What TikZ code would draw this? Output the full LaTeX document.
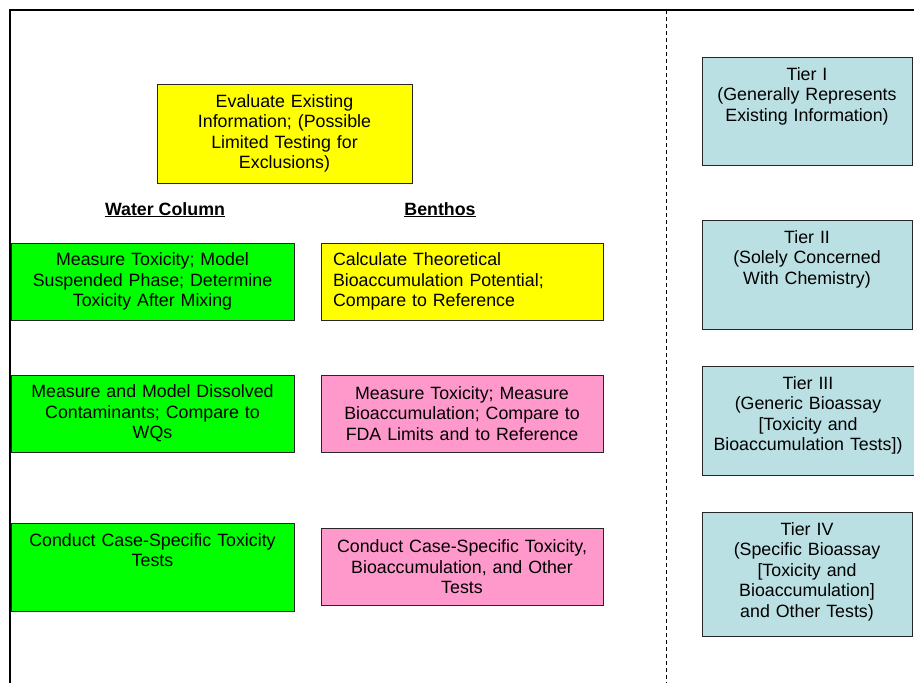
\documentclass[tikz,border=0pt]{standalone}
\usepackage{fontspec}
\setmainfont{Liberation Sans}
\usepackage{xcolor}
\usepackage{tikz}
\usetikzlibrary{positioning}

\definecolor{evalyellow}{RGB}{255,255,0}
\definecolor{wcgreen}{RGB}{0,255,0}
\definecolor{bepink}{RGB}{255,153,204}
\definecolor{tierblue}{RGB}{186,224,227}

\begin{document}
\begin{tikzpicture}[
		x=1pt, y=-1pt,
		font=\fontsize{17.8}{20.5}\selectfont,
		box/.style = {
			rectangle, draw=black!85, line width=1pt,
			align=center, inner ysep=0pt, inner xsep=10pt, outer sep=0pt
		},
		evalbox/.style = {
			box, fill=evalyellow,
			text width=235pt, minimum width=255pt, minimum height=99pt
		},
		wcbox/.style = {
			box, fill=wcgreen,
			text width=263pt, minimum width=283pt, minimum height=77pt
		},
		bebox/.style = {
			box, fill=bepink,
			text width=262pt, minimum width=282pt, minimum height=77pt
		},
		topbox/.style = {
			text height=23pt, text depth=#1
		},
		tierbox/.style = {
			box, fill=tierblue,
			text width=190pt, minimum width=210pt
		},
		heading/.style = {
			font=\fontsize{17.8}{20.5}\selectfont\bfseries,
			inner sep=0pt, anchor=base
		},
		divider/.style = {
			line width=1pt, dash pattern=on 4pt off 3pt
		}
	]
	\useasboundingbox (0,0) rectangle (914,683);
	\draw[line width=2pt] (10,683) -- (10,10) -- (914,10);
	\draw[divider] (666,10) -- (666,683);

	\node[evalbox, anchor=north west] (eval) at (157,84)
		{Evaluate Existing\\Information; (Possible\\Limited Testing for\\Exclusions)};

	\node[heading] (wchead) at (165,215) {\underline{Water Column}};
	\node[heading] (behead) at (440,215) {\underline{Benthos}};

	\node[wcbox, anchor=north west] (wc1) at (11,243)
		{Measure Toxicity; Model\\Suspended Phase; Determine\\Toxicity After Mixing};
	\node[wcbox, below=55pt of wc1] (wc2)
		{Measure and Model Dissolved\\Contaminants; Compare to\\WQs};
	\node[wcbox, topbox=65pt, minimum height=0pt, below=71pt of wc2] (wc3)
		{Conduct Case-Specific Toxicity\\Tests};

	\node[bebox, fill=evalyellow, align=left, inner xsep=12pt, text width=258pt,
		right=27pt of wc1] (be1)
		{Calculate Theoretical\\Bioaccumulation Potential;\\Compare to Reference};
	\node[bebox, right=27pt of wc2] (be2)
		{Measure Toxicity; Measure\\Bioaccumulation; Compare to\\FDA Limits and to Reference};
	\node[bebox, right=27pt of wc3] (be3)
		{Conduct Case-Specific Toxicity,\\Bioaccumulation, and Other\\Tests};

	\node[tierbox, topbox=85pt, anchor=north west] (tier1) at (702,57)
		{Tier I\\(Generally Represents\\Existing Information)};
	\node[tierbox, topbox=86pt, below=55pt of tier1] (tier2)
		{Tier II\\(Solely Concerned\\With Chemistry)};
	\node[tierbox, topbox=86pt, minimum width=212pt,
		below=37pt of tier2.south west, anchor=north west] (tier3)
		{Tier III\\(Generic Bioassay\\{[}Toxicity and\\Bioaccumulation Tests])};
	\node[tierbox, topbox=101pt, below=37pt of tier3.south west, anchor=north west] (tier4)
		{Tier IV\\(Specific Bioassay\\{[}Toxicity and\\Bioaccumulation]\\and Other Tests)};
\end{tikzpicture}
\end{document}
